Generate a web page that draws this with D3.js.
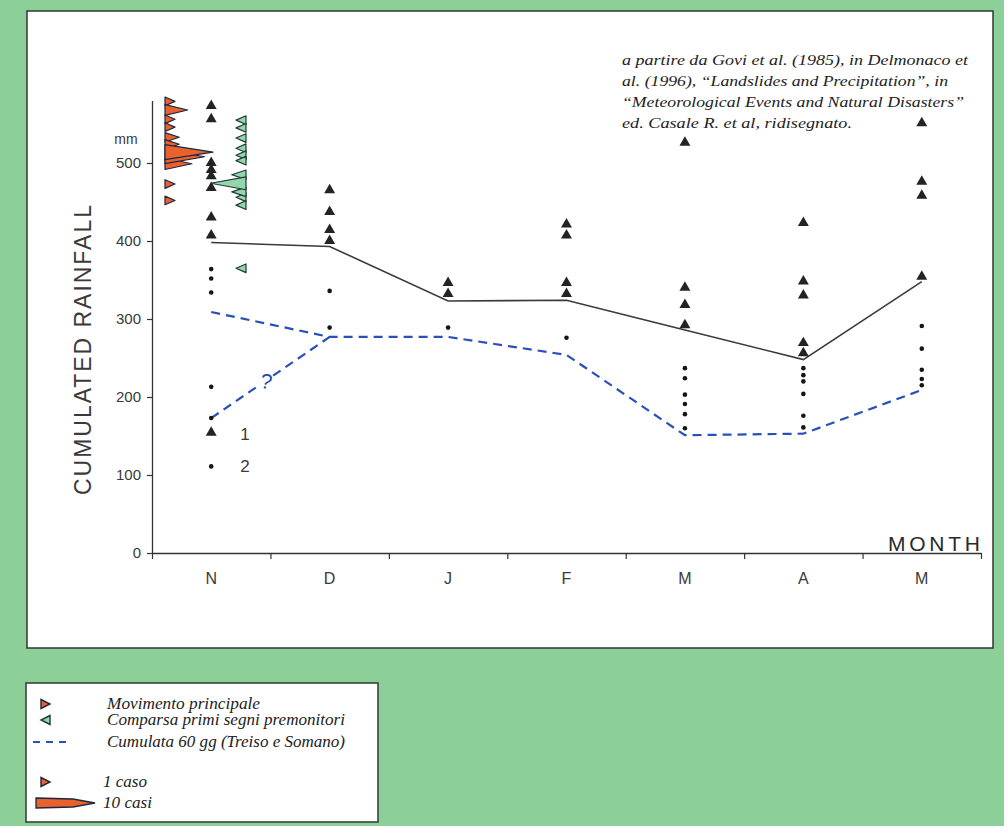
<!DOCTYPE html>
<html>
<head>
<meta charset="utf-8">
<script src="https://cdn.jsdelivr.net/npm/d3@7"></script>
<style>
  html, body { margin: 0; padding: 0; background: #8dcf99; }
  svg { display: block; }
</style>
</head>
<body>
<script>
// Months of the rainy season, November to May
const months = ["N", "D", "J", "F", "M", "A", "M"];
const yTicks = [0, 100, 200, 300, 400, 500];

// Type 1 events (triangles), mm, per month
const events1 = [
  [572, 555, 499, 490, 482, 467, 429, 406],
  [464, 436, 413, 399],
  [345, 331],
  [420, 406, 345, 331],
  [525, 339, 317, 291],
  [422, 347, 329, 268, 255],
  [550, 475, 457, 353]
];
// Type 2 events (dots), mm, per month
const events2 = [
  [364, 352, 334, 213, 173],
  [336, 289],
  [289],
  [276],
  [237, 224, 203, 191, 178, 160],
  [237, 228, 220, 204, 176, 161],
  [291, 262, 235, 223, 215]
];
// Threshold line (solid)
const thresholdLine = [398, 393, 323, 324, 286, 248, 348];
// Cumulata 60 gg (Treiso e Somano), with the uncertain November branch
const cumulata60 = [309, 277, 277, 254, 151, 153, 209];
const cumulata60AltN = 173;

// Movimento principale: [mm, number of cases]
const movimento = [[579, 1], [568, 4], [556, 1], [546, 1], [533, 2], [524, 2], [514, 10], [508, 8], [499, 5], [473, 1], [452, 1]];
// Comparsa primi segni premonitori: [mm, number of cases]
const premonitori = [[555, 1], [545, 1], [532, 1], [519, 1], [510, 1], [503, 1], [485, 2], [474, 7], [463, 2], [456, 1], [446, 1], [365, 1]];

// Symbol key values (mm)
const keyValues = [153, 111];

const sourceLines = [
  "a partire da Govi et al. (1985), in Delmonaco et",
  "al. (1996), \u201cLandslides and Precipitation\u201d, in",
  "\u201cMeteorological Events and Natural Disasters\u201d",
  "ed. Casale R. et al, ridisegnato."
];
const legendLines = [
  "Movimento principale",
  "Comparsa primi segni premonitori",
  "Cumulata 60 gg (Treiso e Somano)",
  "1 caso",
  "10 casi"
];

const W = 1004, H = 826;
const svg = d3.select("body").append("svg").attr("width", W).attr("height", H);

// page background and white panels
svg.append("rect").attr("width", W).attr("height", H).attr("fill", "#8dcf99");
svg.append("rect").attr("x", 27).attr("y", 11).attr("width", 966).attr("height", 637)
  .attr("fill", "#fff").attr("stroke", "#2f3a33").attr("stroke-width", 1.5);
svg.append("rect").attr("x", 26).attr("y", 683).attr("width", 352).attr("height", 139)
  .attr("fill", "#fff").attr("stroke", "#2f3a33").attr("stroke-width", 1.5);

const x0 = 152, x1 = 981, yBase = 553;
const x = d3.scaleBand().domain(d3.range(months.length)).range([x0, x1]).padding(0);
const xc = i => x(i) + x.bandwidth() / 2;
const xb = d3.scaleLinear().domain([0, months.length]).range([x0, x1]);
const y = d3.scaleLinear().domain([0, 580]).range([yBase, yBase - 580 * 0.78]);

const sans = "'Liberation Sans', Arial, Helvetica, sans-serif";
const serif = "'Liberation Serif', 'DejaVu Serif', serif";
const ink = "#333";

// y axis
const yAxis = svg.append("g").attr("transform", `translate(${x0},0)`)
  .call(d3.axisLeft(y).tickValues(yTicks).tickSize(5).tickPadding(6).tickSizeOuter(0));
yAxis.select(".domain").attr("stroke", ink).attr("stroke-width", 1.3);
yAxis.selectAll(".tick line").attr("stroke", ink).attr("stroke-width", 1.2);
yAxis.selectAll(".tick text").attr("font-family", sans).attr("font-size", 15).attr("fill", "#3a3a3a");

// x axis: ticks at the month boundaries
const xAxis = svg.append("g").attr("transform", `translate(0,${yBase})`)
  .call(d3.axisBottom(xb).tickValues(d3.range(months.length + 1)).tickSize(6).tickFormat("").tickSizeOuter(0));
xAxis.select(".domain").attr("stroke", ink).attr("stroke-width", 1.3);
xAxis.selectAll(".tick line").attr("stroke", ink).attr("stroke-width", 1.2);

svg.append("g").selectAll("text").data(months).join("text")
  .attr("x", (d, i) => xc(i)).attr("y", yBase + 31)
  .attr("text-anchor", "middle").attr("font-family", sans).attr("font-size", 16).attr("fill", "#3a3a3a")
  .text(d => d);

svg.append("text").attr("x", 126).attr("y", y(525)).attr("font-family", sans).attr("font-size", 14)
  .attr("fill", "#3a3a3a").attr("text-anchor", "middle").text("mm");
svg.append("text").attr("transform", `translate(${91},${350}) rotate(-90)`)
  .attr("text-anchor", "middle").attr("font-family", sans).attr("font-size", 23).attr("fill", "#3a3a3a")
  .attr("textLength", 290).attr("lengthAdjust", "spacing").text("CUMULATED RAINFALL");
svg.append("text").attr("x", 980).attr("y", 551).attr("text-anchor", "end")
  .attr("font-family", sans).attr("font-size", 21).attr("fill", "#2a2a2a")
  .attr("textLength", 92).attr("lengthAdjust", "spacing").text("MONTH");

// threshold line
const line = d3.line().x((d, i) => xc(i)).y(d => y(d));
svg.append("path").datum(thresholdLine).attr("d", line)
  .attr("fill", "none").attr("stroke", "#3a3a3a").attr("stroke-width", 1.6);

// cumulata 60 gg, dashed
const dashStyle = sel => sel.attr("fill", "none").attr("stroke", "#2b4fb8")
  .attr("stroke-width", 2.2).attr("stroke-dasharray", "9,6");
svg.append("path").datum(cumulata60).attr("d", line).call(dashStyle);
svg.append("path").attr("d", d3.line()([[xc(0), y(cumulata60AltN)], [xc(1), y(cumulata60[1])]])).call(dashStyle);
// question mark breaks the uncertain branch
const qx = xc(0) + 0.455 * x.bandwidth(), qy = y(220);
svg.append("rect").attr("x", qx - 6).attr("y", qy - 9).attr("width", 12).attr("height", 18).attr("fill", "#fff");
svg.append("text").attr("transform", `translate(${qx},${qy + 7}) rotate(10)`)
  .attr("font-family", sans).attr("font-size", 21).attr("fill", "#2347b0")
  .attr("text-anchor", "middle").text("?");

// event symbols
const tri = d3.symbol().type(d3.symbolTriangle).size(52);
const triData = events1.flatMap((vals, i) => vals.map(v => ({ i, v })));
svg.append("g").selectAll("path").data(triData).join("path")
  .attr("d", tri).attr("transform", d => `translate(${xc(d.i)},${y(d.v) - 1})`)
  .attr("fill", "#232323");
const dotData = events2.flatMap((vals, i) => vals.map(v => ({ i, v })));
svg.append("g").selectAll("circle").data(dotData).join("circle")
  .attr("cx", d => xc(d.i)).attr("cy", d => y(d.v)).attr("r", 2.3).attr("fill", "#151515");

// symbol key
svg.append("path").attr("d", tri).attr("transform", `translate(${xc(0)},${y(keyValues[0]) - 1})`).attr("fill", "#232323");
svg.append("circle").attr("cx", xc(0)).attr("cy", y(keyValues[1])).attr("r", 2.3).attr("fill", "#151515");
svg.append("g").selectAll("text").data(["1", "2"]).join("text")
  .attr("x", 245).attr("y", (d, i) => y(keyValues[i]) + 6).attr("text-anchor", "middle")
  .attr("font-family", sans).attr("font-size", 17).attr("fill", "#3a3a3a").text(d => d);

// case-count spikes
const len = d3.scaleLinear().domain([1, 10]).range([10, 48]);
const half = c => 4 + c * 0.35;
function spike(base, dir, v, c) {
  const cy = y(v), h = half(c), l = len(c) * dir;
  return d3.line()([[base, cy - h], [base + l, cy], [base, cy + h]]) + "Z";
}
const orangeBase = 165, greenBase = 246;
svg.append("g").selectAll("path").data(movimento.slice().sort((a, b) => a[1] - b[1])).join("path")
  .attr("d", d => spike(orangeBase, 1, d[0], d[1]))
  .attr("fill", "#e9622b").attr("stroke", "#1d2745").attr("stroke-width", 1.2).attr("stroke-linejoin", "round");
svg.append("g").selectAll("path").data(premonitori.slice().sort((a, b) => a[1] - b[1])).join("path")
  .attr("d", d => spike(greenBase, -1, d[0], d[1]))
  .attr("fill", "#93d6ab").attr("stroke", "#1f3a33").attr("stroke-width", 1.2).attr("stroke-linejoin", "round");

// source note
svg.append("g").selectAll("text").data(sourceLines).join("text")
  .attr("x", 622).attr("y", (d, i) => 65 + i * 21)
  .attr("font-family", serif).attr("font-style", "italic").attr("font-size", 15).attr("fill", "#222")
  .attr("textLength", (d, i) => [346, 326, 342, 230][i]).attr("lengthAdjust", "spacingAndGlyphs")
  .text(d => d);

// legend
const legY = [704, 720, 742, 782, 803];
svg.append("g").selectAll("text").data(legendLines).join("text")
  .attr("x", (d, i) => i < 3 ? 107 : 103).attr("y", (d, i) => legY[i] + 5)
  .attr("font-family", serif).attr("font-style", "italic").attr("font-size", 16).attr("fill", "#222")
  .attr("textLength", (d, i) => [153, 238, 238, 44, 49][i]).attr("lengthAdjust", "spacingAndGlyphs")
  .text(d => d);
const legTri = (cx, cy, dir) => d3.line()([[cx - 4 * dir, cy - 4.5], [cx + 5 * dir, cy], [cx - 4 * dir, cy + 4.5]]) + "Z";
svg.append("path").attr("d", legTri(45, legY[0], 1)).attr("fill", "#e9622b").attr("stroke", "#1d2745").attr("stroke-width", 1.4);
svg.append("path").attr("d", legTri(46, legY[1], -1)).attr("fill", "#93d6ab").attr("stroke", "#1f3a33").attr("stroke-width", 1.4);
svg.append("path").attr("d", d3.line()([[33, legY[2]], [71, legY[2]]])).call(dashStyle).attr("stroke-dasharray", "7,6");
svg.append("path").attr("d", legTri(45, legY[3], 1)).attr("fill", "#e9622b").attr("stroke", "#1d2745").attr("stroke-width", 1.4);
svg.append("path")
  .attr("d", d3.line()([[36, legY[4] - 5], [73, legY[4] - 4], [95, legY[4]], [73, legY[4] + 4], [36, legY[4] + 5]]) + "Z")
  .attr("fill", "#e9622b").attr("stroke", "#1d2745").attr("stroke-width", 1.3);
</script>
</body>
</html>
